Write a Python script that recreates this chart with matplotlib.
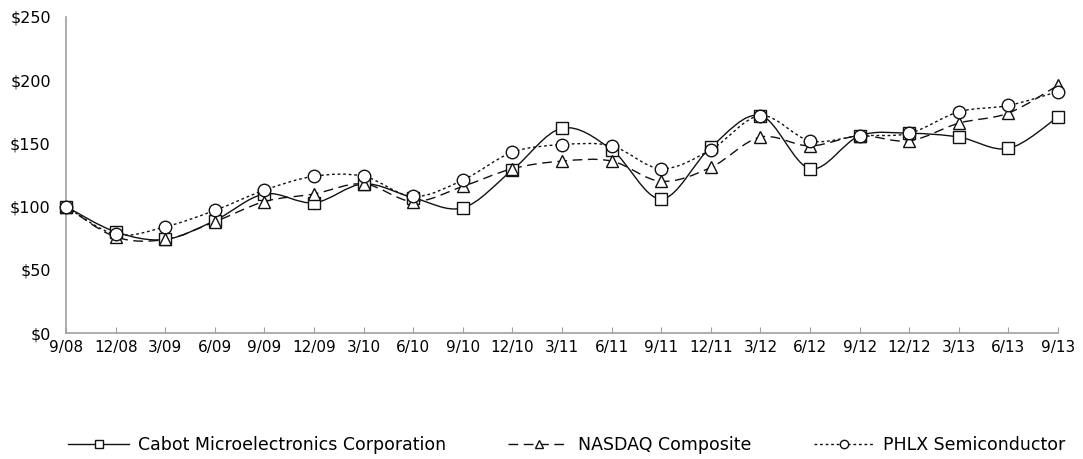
import numpy as np
import matplotlib
matplotlib.use("Agg")
from matplotlib import pyplot as plt
from matplotlib.path import Path
from matplotlib.patches import PathPatch

plt.rcParams['font.family'] = ['DejaVu Sans']

quarters = ['9/08', '12/08', '3/09', '6/09', '9/09', '12/09', '3/10', '6/10', '9/10',
            '12/10', '3/11', '6/11', '9/11', '12/11', '3/12', '6/12', '9/12', '12/12',
            '3/13', '6/13', '9/13']

cabot = [100, 80, 74, 89, 110, 103, 118, 107, 99, 129, 162, 145, 106, 147, 172,
         130, 156, 158, 155, 146, 171]
nasdaq = [100, 76, 74, 88, 104, 110, 118, 104, 116, 130, 136, 136, 120, 131, 155,
          148, 156, 152, 166, 174, 196]
phlx = [100, 78, 84, 97, 113, 124, 124, 108, 121, 143, 149, 148, 130, 145, 172,
        152, 156, 158, 175, 180, 191]

series = [
    ('Cabot Microelectronics Corporation', cabot, 's', '-'),
    ('NASDAQ Composite', nasdaq, '^', (0, (7, 4))),
    ('PHLX Semiconductor', phlx, 'o', (0, (2, 2))),
]


def smooth_path(xs, ys):
    # cubic bezier through every point, like a spreadsheet "smoothed line"
    pts = np.column_stack([xs, ys]).astype(float)
    n = len(pts)
    verts = [pts[0]]
    codes = [Path.MOVETO]
    for i in range(n - 1):
        p0 = pts[max(i - 1, 0)]
        p1 = pts[i]
        p2 = pts[i + 1]
        p3 = pts[min(i + 2, n - 1)]
        c1 = p1 + (p2 - p0) / 6.0
        c2 = p2 - (p3 - p1) / 6.0
        verts += [c1, c2, p2]
        codes += [Path.CURVE4] * 3
    return Path(verts, codes)


fig = plt.figure(figsize=(10.83, 4.59), dpi=100)
ax = fig.add_axes([0.061, 0.2745, 0.916, 0.6885])

x = np.arange(len(quarters))
for name, vals, mk, ls in series:
    patch = PathPatch(smooth_path(x, vals), facecolor='none', edgecolor='#111111',
                      lw=1.0, linestyle=ls, zorder=2)
    ax.add_patch(patch)
    ax.plot(x, vals, linestyle='none', marker=mk, markersize=9,
            markerfacecolor='white', markeredgecolor='#111111', markeredgewidth=1.0,
            zorder=3, clip_on=False)
    # legend handle only
    ax.plot([], [], color='#111111', lw=1.0, linestyle=ls, marker=mk, markersize=6,
            markerfacecolor='white', markeredgecolor='#111111', label=name)

ax.set_xlim(0, len(quarters) - 1)
ax.set_ylim(0, 250)
ax.set_xticks(x)
ax.set_xticklabels(quarters)
ax.set_yticks(np.arange(0, 251, 50))
ax.set_yticklabels(['$%d' % v for v in range(0, 251, 50)])

for side in ['top', 'right']:
    ax.spines[side].set_visible(False)
for side in ['left', 'bottom']:
    ax.spines[side].set_color('#a0a0a0')
    ax.spines[side].set_linewidth(1.2)

ax.tick_params(axis='x', direction='in', length=4, color='#a0a0a0', labelsize=11, pad=5)
ax.tick_params(axis='y', length=0, labelsize=11.5, pad=11)

fig.legend(loc='center', bbox_to_anchor=(0.5235, 0.03), ncol=3, frameon=False,
           fontsize=12.5, handlelength=3.5, handletextpad=0.5, columnspacing=3.6,
           borderpad=0)

fig.savefig('out.png', dpi=100, facecolor='white')
